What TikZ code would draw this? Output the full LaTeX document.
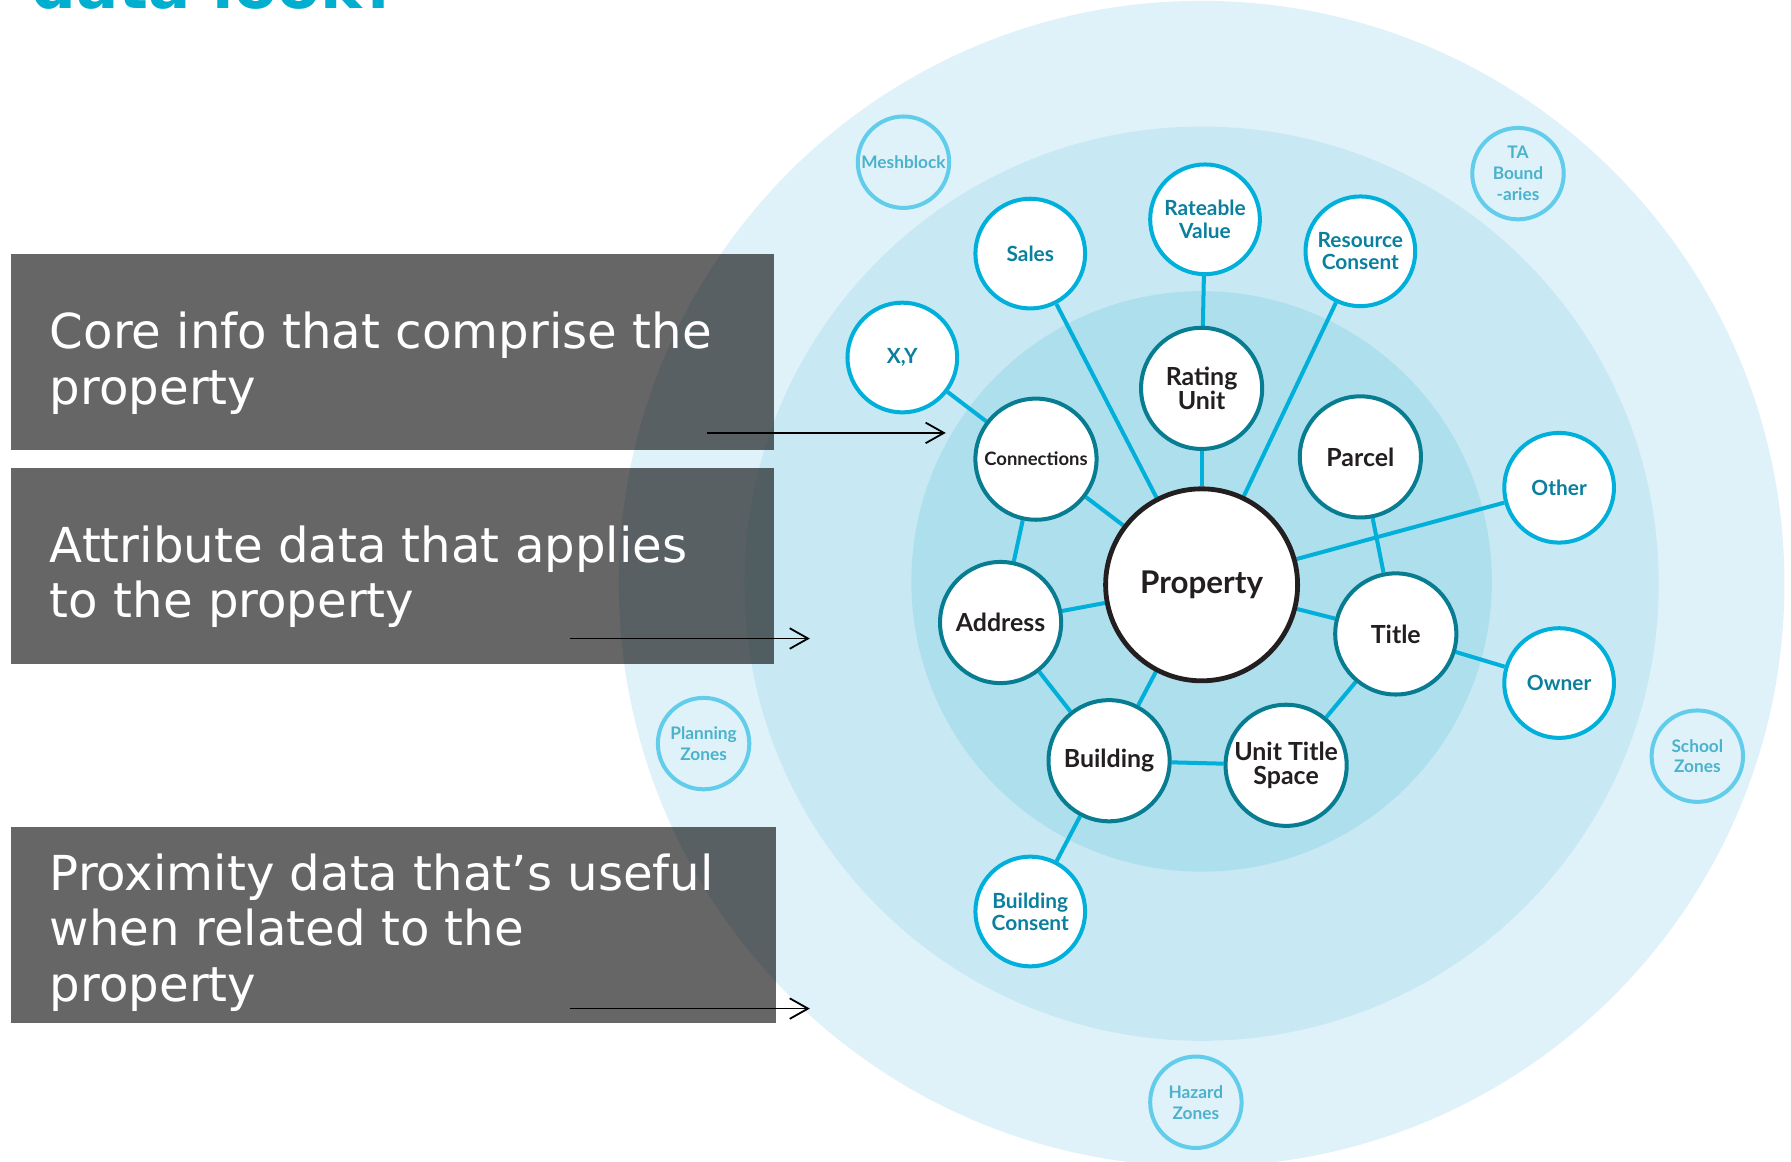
\documentclass[tikz,border=0pt]{standalone}
\usepackage{fontspec}
\setmainfont{DejaVu Sans}
\newfontfamily\nodefont{Lato}
\usetikzlibrary{arrows.meta,backgrounds}

\definecolor{ringout}{RGB}{224,242,249}
\definecolor{ringmid}{RGB}{200,233,244}
\definecolor{ringin}{RGB}{174,223,237}
\definecolor{coreline}{RGB}{8,125,146}
\definecolor{attrline}{RGB}{0,176,218}
\definecolor{proxline}{RGB}{98,205,235}
\definecolor{attrtext}{RGB}{10,128,158}
\definecolor{proxtext}{RGB}{75,178,204}
\definecolor{darktext}{RGB}{35,31,32}
\definecolor{headcyan}{RGB}{0,174,207}

\begin{document}
\begin{tikzpicture}[x=0.01cm,y=-0.01cm,
    hub/.style={circle,draw=darktext,line width=1.2pt,fill=white,minimum size=1.68cm,inner sep=0pt,
      text=darktext,font=\nodefont\bfseries\fontsize{7.8}{7.8}\selectfont},
    core/.style={circle,draw=coreline,line width=1pt,fill=white,minimum size=1.06cm,inner sep=0pt,align=center,
      text=darktext,font=\nodefont\bfseries\fontsize{6.2}{6.1}\selectfont},
    attr/.style={circle,draw=attrline,line width=1pt,fill=white,minimum size=0.96cm,inner sep=0pt,align=center,
      text=attrtext,font=\nodefont\bfseries\fontsize{5.2}{5.5}\selectfont},
    prox/.style={circle,draw=proxline,line width=1pt,minimum size=0.80cm,inner sep=0pt,align=center,
      text=proxtext,font=\nodefont\bfseries\fontsize{4.3}{5.2}\selectfont},
    link/.style={draw=attrline,line width=1pt},
    infobox/.style={fill=black,fill opacity=0.6},
    boxtext/.style={anchor=base west,align=left,inner sep=0pt,text=white,font=\fontsize{12}{13.9}\selectfont},
    pointer/.style={-{Straight Barb[length=1.6mm,width=1.8mm]},line width=0.45pt}]

\useasboundingbox (0,0) rectangle (1568,1017);

% rings
\begin{scope}[on background layer]
  \fill[ringout] (1052,511) circle (5.10cm);
  \fill[ringmid] (1052,511) circle (4.00cm);
  \fill[ringin] (1052,509) circle (2.54cm);
\end{scope}

% heading, cut off at the top
\node[anchor=base west,inner sep=0pt,text=headcyan,font=\bfseries\fontsize{15.6}{15.6}\selectfont] (heading) at (27,7) {data look?};

% property and its core parts
\node[hub] (prop) at (1052,512) {Property};
\node[core] (rating) at (1052,340) {Rating\\Unit};
\node[core,font=\nodefont\bfseries\fontsize{4.6}{5}\selectfont] (conn) at (907,402) {Connections};
\node[core] (parcel) at (1191,400) {Parcel};
\node[core] (addr) at (876,545) {Address};
\node[core] (title) at (1222,555) {Title};
\node[core] (bldg) at (971,666) {Building};
\node[core] (uts) at (1126,670) {Unit Title\\Space};

% attributes
\node[attr] (rv) at (1055,192) {Rateable\\Value};
\node[attr] (sales) at (902,222) {Sales};
\node[attr] (rc) at (1191,220) {Resource\\Consent};
\node[attr] (xy) at (790,313) {X,Y};
\node[attr] (other) at (1365,427) {Other};
\node[attr] (owner) at (1365,598) {Owner};
\node[attr] (bc) at (902,798) {Building\\Consent};

% proximity
\node[prox] (mesh) at (791,142) {Meshblock};
\node[prox] (ta) at (1329,152) {TA\\Bound\\-aries};
\node[prox] (plan) at (616,651) {Planning\\Zones};
\node[prox] (school) at (1486,662) {School\\Zones};
\node[prox] (hazard) at (1047,965) {Hazard\\Zones};

% links
\begin{scope}[on background layer]
  \draw[link] (prop) -- (rating);
  \draw[link] (rating) -- (rv);
  \draw[link] (prop) -- (sales);
  \draw[link] (prop) -- (rc);
  \draw[link] (prop) -- (conn);
  \draw[link] (conn) -- (xy);
  \draw[link] (conn) -- (addr);
  \draw[link] (prop) -- (addr);
  \draw[link] (prop) -- (other);
  \draw[link] (parcel) -- (title);
  \draw[link] (prop) -- (title);
  \draw[link] (title) -- (owner);
  \draw[link] (title) -- (uts);
  \draw[link] (prop) -- (bldg);
  \draw[link] (addr) -- (bldg);
  \draw[link] (bldg) -- (uts);
  \draw[link] (bldg) -- (bc);
\end{scope}

% text boxes
\fill[infobox] (10,222) rectangle (678,394);
\fill[infobox] (10,410) rectangle (678,581);
\fill[infobox] (10,724) rectangle (679,896);
\node[boxtext] (coretxt) at (43,354) {Core info that comprise the\\property};
\node[boxtext] (attrtxt) at (43,541) {Attribute data that applies\\to the property};
\node[boxtext] (proxtxt) at (43,877) {Proximity data that’s useful\\when related to the\\property};

\coordinate (p1a) at (619,379);
\coordinate (p1b) at (828,379);
\coordinate (p2a) at (499,559);
\coordinate (p2b) at (709,559);
\coordinate (p3a) at (499,883);
\coordinate (p3b) at (709,883);
\draw[pointer] (p1a) -- (p1b);
\draw[pointer] (p2a) -- (p2b);
\draw[pointer] (p3a) -- (p3b);

\end{tikzpicture}
\end{document}
